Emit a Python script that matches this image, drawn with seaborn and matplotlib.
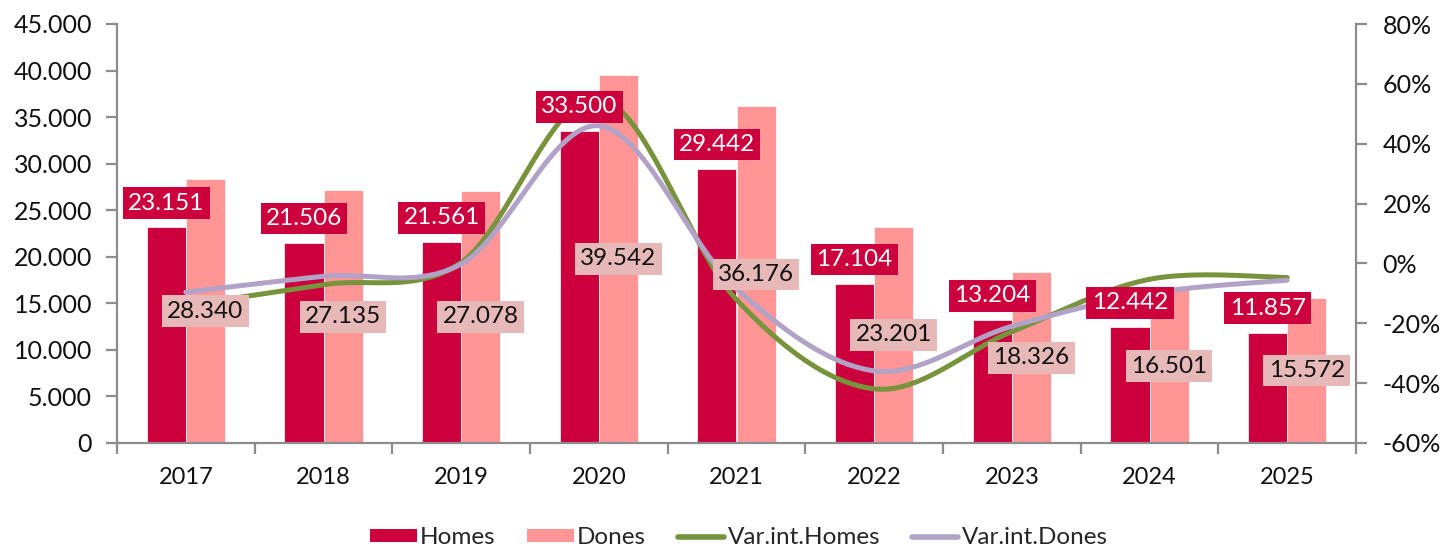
import numpy as np
import pandas as pd
import matplotlib
matplotlib.use("Agg")
import matplotlib.pyplot as plt
import seaborn as sns
from matplotlib.patches import Patch
from matplotlib.lines import Line2D
from matplotlib.ticker import FuncFormatter

# ---------------- data ----------------
years = ["2017", "2018", "2019", "2020", "2021", "2022", "2023", "2024", "2025"]
homes = [23151, 21506, 21561, 33500, 29442, 17104, 13204, 12442, 11857]
dones = [28340, 27135, 27078, 39542, 36176, 23201, 18326, 16501, 15572]
var_homes = [-14.0, -7.1, 0.3, 55.4, -12.1, -41.9, -22.8, -5.3, -4.7]
var_dones = [-9.6, -4.3, -0.2, 46.0, -8.5, -35.9, -21.0, -10.0, -5.6]

C_HOMES = "#CC003D"
C_DONES = "#FF9595"
C_DONES_BOX = "#E6B9B8"
C_VH = "#77933C"
C_VD = "#B3A2C7"
GRAY = "#8C8C8C"

sns.set_theme(style="white")
plt.rcParams["font.family"] = ["Lato", "DejaVu Sans"]
plt.rcParams["font.weight"] = "normal"


def fmt_thousands(v):
    return f"{int(round(v)):,}".replace(",", ".")


def smooth(y, n=40):
    """Excel-like smoothed line (Catmull-Rom Bezier) through the points."""
    y = np.asarray(y, float)
    x = np.arange(len(y), dtype=float)
    P = np.column_stack([x, y])
    Pp = np.vstack([P[0], P, P[-1]])
    out = []
    t = np.linspace(0, 1, n)[:, None]
    for i in range(len(P) - 1):
        p0, p1, p2, p3 = Pp[i], Pp[i + 1], Pp[i + 2], Pp[i + 3]
        b1 = p1 + (p2 - p0) / 6
        b2 = p2 - (p3 - p1) / 6
        seg = ((1 - t) ** 3) * p1 + 3 * ((1 - t) ** 2) * t * b1 + 3 * (1 - t) * t ** 2 * b2 + t ** 3 * p2
        out.append(seg if i == 0 else seg[1:])
    out = np.vstack(out)
    return out[:, 0], out[:, 1]


fig = plt.figure(figsize=(14.43, 5.5), dpi=100)
ax = fig.add_axes([117 / 1443, 1 - 443 / 550, (1356 - 117) / 1443, (443 - 24) / 550])

df = pd.DataFrame({
    "year": years * 2,
    "value": homes + dones,
    "serie": ["Homes"] * len(years) + ["Dones"] * len(years),
})
sns.barplot(data=df, x="year", y="value", hue="serie", order=years,
            hue_order=["Homes", "Dones"],
            palette={"Homes": C_HOMES, "Dones": C_DONES}, saturation=1,
            width=0.567, gap=0, ax=ax, legend=False,
            edgecolor="white", linewidth=0.5)

ax.set_xlim(-0.5, len(years) - 0.5)
ax.set_ylim(0, 45000)
ax.set_yticks(np.arange(0, 45001, 5000))
ax.yaxis.set_major_formatter(FuncFormatter(lambda v, p: fmt_thousands(v)))
ax.set_xticks(range(len(years)))
ax.set_xticklabels(years)
ax.set_xticks(np.arange(-0.5, len(years)), minor=True)
ax.set_xlabel("")
ax.set_ylabel("")

ax2 = ax.twinx()
ax2.set_ylim(-60, 80)
ax2.set_yticks(np.arange(-60, 81, 20))
ax2.yaxis.set_major_formatter(FuncFormatter(lambda v, p: f"{int(v)}%"))

for a in (ax, ax2):
    for s in a.spines.values():
        s.set_visible(False)
for s in (ax.spines["left"], ax.spines["bottom"], ax2.spines["right"]):
    s.set_visible(True)
    s.set_color(GRAY)
    s.set_linewidth(1.6)

ax.tick_params(axis="y", which="major", direction="out", length=8, width=1.6,
               color=GRAY, labelsize=18, pad=10, left=True, labelcolor="#111111")
ax.tick_params(axis="x", which="major", length=0, labelsize=17, pad=17, labelcolor="#111111")
ax.tick_params(axis="x", which="minor", direction="out", length=8, width=1.6,
               color=GRAY, bottom=True)
ax2.tick_params(axis="y", direction="out", length=8, width=1.6, color=GRAY,
                labelsize=18, pad=11, right=True, labelcolor="#111111")

# smoothed lines on secondary axis
xs, ys = smooth(var_homes)
sns.lineplot(x=xs, y=ys, ax=ax2, color=C_VH, linewidth=3.6, sort=False,
             estimator=None, solid_capstyle="round", zorder=3)
xs, ys = smooth(var_dones)
sns.lineplot(x=xs, y=ys, ax=ax2, color=C_VD, linewidth=3.6, sort=False,
             estimator=None, solid_capstyle="round", zorder=3)
ax2.set_xlim(-0.5, len(years) - 0.5)

# data labels (drawn on ax2 so they sit above the lines)
off = 0.567 / 4
for i, (h, d) in enumerate(zip(homes, dones)):
    ax2.annotate(fmt_thousands(h), xy=(i - off, h), xycoords=ax.transData,
                 xytext=(0, 17.5), textcoords="offset points",
                 ha="center", va="center", fontsize=17.5, color="white", zorder=5,
                 bbox=dict(boxstyle="square,pad=0.22", fc=C_HOMES, ec="none"))
    ax2.text(i + off, d / 2, fmt_thousands(d), transform=ax.transData,
             ha="center", va="center", fontsize=17.5, color="#111111", zorder=5,
             bbox=dict(boxstyle="square,pad=0.22", fc=C_DONES_BOX, ec="none"))

handles = [
    Patch(facecolor=C_HOMES, edgecolor="none", label="Homes"),
    Patch(facecolor=C_DONES, edgecolor="none", label="Dones"),
    Line2D([0], [0], color=C_VH, linewidth=4, solid_capstyle="round", label="Var.int.Homes"),
    Line2D([0], [0], color=C_VD, linewidth=4, solid_capstyle="round", label="Var.int.Dones"),
]
fig.legend(handles=handles, loc="center", bbox_to_anchor=(739 / 1443, 1 - 538 / 550),
           ncol=4, frameon=False, fontsize=17.5, handlelength=1.9, handleheight=0.45,
           handletextpad=0.15, columnspacing=1.3)

fig.savefig("out.png", dpi=100)
